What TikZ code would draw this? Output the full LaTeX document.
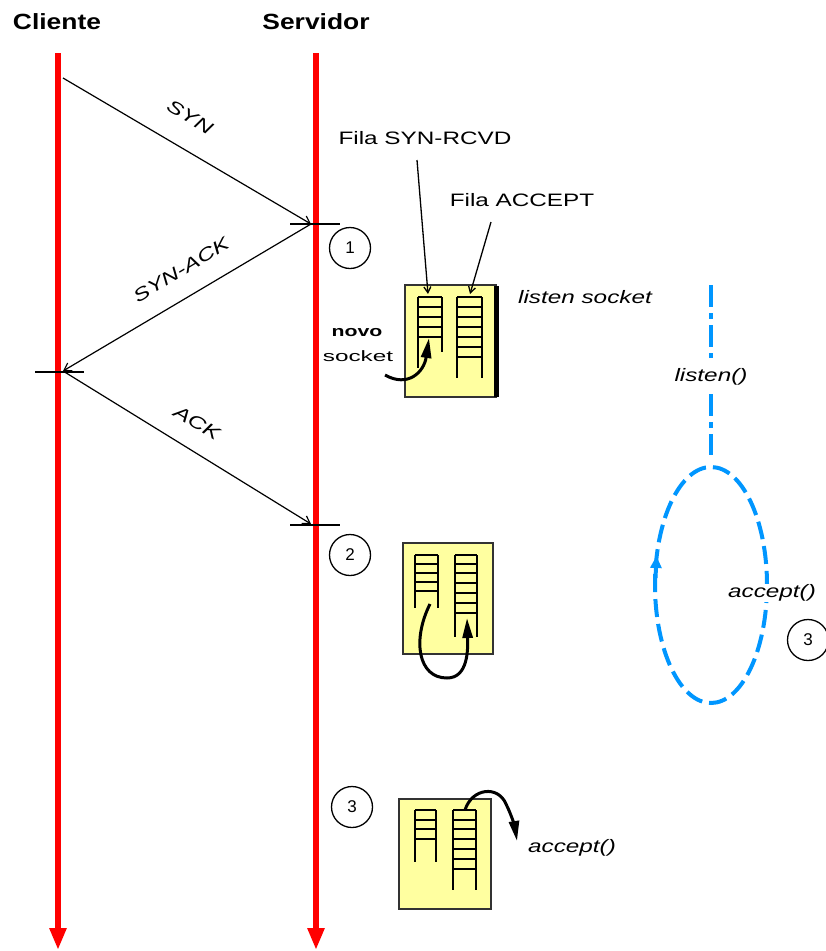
\documentclass[tikz,border=0pt]{standalone}
\usepackage{fontspec}
\setmainfont{Liberation Sans}
\usetikzlibrary{arrows.meta}
\definecolor{lifered}{RGB}{255,0,0}
\definecolor{boxyellow}{RGB}{255,255,160}
\definecolor{loopblue}{RGB}{0,150,255}
\tikzset{
  lifeline/.style={draw=lifered, line width=6pt, -{Triangle[width=16pt,length=22pt]}},
  msg/.style={draw=black, line width=1.2pt, -{Straight Barb[length=7pt,width=9pt]}},
  tick/.style={draw=black, line width=1.2pt},
  lbl/.style={font=\fontsize{18}{20}\selectfont, xscale=1.35, inner sep=1pt},
  ilbl/.style={font=\fontsize{18}{20}\selectfont\itshape, xscale=1.35, inner sep=1pt},
  hdr/.style={font=\fontsize{22}{24}\selectfont\bfseries, xscale=1.2, inner sep=1pt},
  stepnum/.style={draw=black, line width=1.3pt, circle, minimum size=41pt, inner sep=0pt, font=\fontsize{17}{18}\selectfont},
  qbox/.style={draw=black!80, line width=2pt, fill=boxyellow},
  rail/.style={draw=black, line width=2pt},
  rung/.style={draw=black, line width=1.5pt},
  fat/.style={draw=black, line width=3pt, -{Triangle[length=20pt,width=10pt]}},
  pointer/.style={draw=black, line width=1.3pt, -{Straight Barb[length=6pt,width=7pt]}},
  bluedash/.style={draw=loopblue, line width=4pt, dash pattern=on 22pt off 6pt on 6pt off 6pt},
  blueloop/.style={draw=loopblue, line width=4pt, dash pattern=on 18pt off 7pt},
}
\begin{document}
\begin{tikzpicture}[x=1pt,y=-1pt]
\useasboundingbox (0,0) rectangle (826,951);
\clip (0,0) rectangle (826,951);

% headers
\node[hdr] (hc) at (57,22) {Cliente};
\node[hdr] (hs) at (316,22) {Servidor};

% lifelines
\coordinate (ctop) at (58,53);
\coordinate (cbot) at (58,950);
\coordinate (stop) at (316,53);
\coordinate (sbot) at (316,950);
\draw[lifeline] (ctop) -- (cbot);
\draw[lifeline] (stop) -- (sbot);

% message points
\coordinate (m1) at (63,78);
\coordinate (m2) at (311,224);
\coordinate (m3) at (63,371);
\coordinate (m4) at (311,524);
\coordinate (t2a) at (290,224);
\coordinate (t2b) at (340,224);
\coordinate (t3a) at (35,372);
\coordinate (t3b) at (84,372);
\coordinate (t4a) at (290,525);
\coordinate (t4b) at (340,525);

\draw[tick] (t2a) -- (t2b);
\draw[tick] (t3a) -- (t3b);
\draw[tick] (t4a) -- (t4b);
\draw[msg] (m1) -- (m2);
\draw[msg] (m2) -- (m3);
\draw[msg] (m3) -- (m4);

\node[rotate=-31, ilbl] (lsyn) at (190,117) {SYN};
\node[rotate=31, ilbl] (lsynack) at (181,270) {SYN-ACK};
\node[rotate=-31, ilbl] (lack) at (197,423) {ACK};

% step circles
\node[stepnum] (s1) at (350,248) {1};
\node[stepnum] (s2) at (350,555) {2};
\node[stepnum] (s3) at (352,807) {3};
\node[stepnum] (s3b) at (808,640) {3};

% ---------- box 1 ----------
\path[qbox] (405,285) rectangle (496,397);
\draw[draw=black, line width=5pt] (496,286) -- (496,397);
% left ladder
\draw[rail] (418,297) -- (418,368);
\draw[rail] (442,297) -- (442,352);
\foreach \y in {297,307,317,327,337} \draw[rung] (418,\y) -- (442,\y);
% right ladder
\draw[rail] (457,297) -- (457,378);
\draw[rail] (482,297) -- (482,378);
\foreach \y in {297,307,317,327,337,347,357} \draw[rung] (457,\y) -- (482,\y);
% pointers
\node[lbl] (fsyn) at (425,138) {Fila SYN-RCVD};
\node[lbl] (facc) at (522,200) {Fila ACCEPT};
\coordinate (p1s) at (417,160);
\coordinate (p1e) at (428,294);
\coordinate (p2s) at (491,222);
\coordinate (p2e) at (470,294);
\draw[pointer] (p1s) -- (p1e);
\draw[pointer] (p2s) -- (p2e);
\node[ilbl] (lsock) at (585,297) {listen socket};
\node[lbl, font=\fontsize{15}{17}\selectfont\bfseries, xscale=1.05] (novo) at (357,333) {novo};
\node[lbl, font=\fontsize{15}{17}\selectfont, xscale=1.2] (sockt) at (358,356) {socket};
\coordinate (a1s) at (385,375);
\coordinate (a1e) at (429,338);
\draw[fat] (a1s) .. controls (408,388) and (424,372) .. (a1e);

% ---------- box 2 ----------
\path[qbox] (403,543) rectangle (493,654);
\draw[rail] (415,555) -- (415,608);
\draw[rail] (438,555) -- (438,608);
\foreach \y in {555,564,573,582,591} \draw[rung] (415,\y) -- (438,\y);
\draw[rail] (455,555) -- (455,637);
\draw[rail] (477,555) -- (477,637);
\foreach \y in {555,564,573,583,593,603,613} \draw[rung] (455,\y) -- (477,\y);
\coordinate (a2s) at (430,604);
\coordinate (a2m) at (447,678);
\coordinate (a2e) at (467,618);
\draw[fat] (a2s) .. controls (412,640) and (418,678) .. (a2m) .. controls (468,678) and (468,650) .. (a2e);

% ---------- box 3 ----------
\path[qbox] (399,799) rectangle (491,909);
\draw[rail] (415,810) -- (415,862);
\draw[rail] (436,810) -- (436,862);
\foreach \y in {810,820,829,839} \draw[rung] (415,\y) -- (436,\y);
\draw[rail] (453,810) -- (453,890);
\draw[rail] (476,810) -- (476,890);
\foreach \y in {810,820,829,839,849,859,869} \draw[rung] (453,\y) -- (476,\y);
\coordinate (a3s) at (465,810);
\coordinate (a3e) at (517,841);
\draw[fat] (a3s) .. controls (472,788) and (498,785) .. (506,804) .. controls (512,816) and (515,828) .. (a3e);
\node[ilbl] (acc1) at (572,848) {accept()};

% ---------- blue loop ----------
\coordinate (v1) at (711,285);
\coordinate (v2) at (711,358);
\coordinate (v3) at (711,394);
\coordinate (v4) at (711,455);
\draw[bluedash] (v1) -- (v2);
\draw[bluedash] (v3) -- (v4);
\node[ilbl] (lst) at (711,377) {listen()};
\coordinate (ecen) at (711,585);
\draw[blueloop] (ecen) ellipse [x radius=56, y radius=118];
\coordinate (ea) at (655.5,578);
\coordinate (eb) at (656.5,556);
\draw[draw=loopblue, line width=4pt, -{Triangle[length=12pt,width=11pt]}] (ea) -- (eb);
\node[ilbl, fill=white] (acc2) at (772,593) {accept()};
\end{tikzpicture}
\end{document}
